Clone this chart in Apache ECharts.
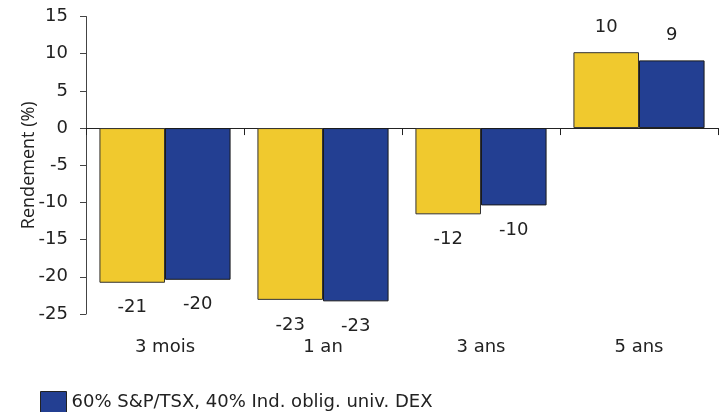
<!DOCTYPE html>
<html><head><meta charset="utf-8">
<script src="https://cdn.jsdelivr.net/npm/echarts@6/dist/echarts.min.js"></script>
<style>html,body{margin:0;padding:0;background:#fff}#c{width:727px;height:412px}</style>
</head><body><div id="c"></div>
<script>
var categories = ['3 mois', '1 an', '3 ans', '5 ans'];
var yellowName = 'Fonds';
var blueName = '60% S&P/TSX, 40% Ind. oblig. univ. DEX';
var yellowValues = [-20.8, -23.1, -11.6, 10.2];
var blueValues = [-20.4, -23.3, -10.4, 9.1];
var yTicks = {min: -25, max: 15, interval: 5};

var FONT = 'DejaVu Sans';
var chart = echarts.init(document.getElementById('c'), null, {renderer: 'canvas'});
function labelCfg() {
  return {show: true, position: 'outside', distance: 16, fontFamily: FONT, fontSize: 18, color: '#222',
    formatter: function (p) { return Math.round(p.value); }};
}
chart.setOption({
  animation: false,
  textStyle: {fontFamily: FONT},
  grid: {left: 86, right: 9, top: 16.5, bottom: 98, containLabel: false},
  legend: {
    data: [{name: blueName, icon: 'rect'}], left: 40, top: 391, padding: 0, itemWidth: 26, itemHeight: 22,
    textStyle: {fontFamily: FONT, fontSize: 18, color: '#222'},
    itemStyle: {borderColor: '#222', borderWidth: 1}
  },
  xAxis: [{
    type: 'category', data: categories,
    axisLine: {onZero: true, lineStyle: {color: '#222', width: 1}},
    axisTick: {show: true, length: 7, lineStyle: {color: '#222'}},
    axisLabel: {show: false}
  }, {
    type: 'category', data: categories, position: 'bottom',
    axisLine: {show: false, onZero: false}, axisTick: {show: false},
    axisLabel: {margin: 24, fontFamily: FONT, fontSize: 18, color: '#222'}
  }],
  yAxis: {
    type: 'value', min: yTicks.min, max: yTicks.max, interval: yTicks.interval,
    name: 'Rendement (%)', nameLocation: 'middle', nameRotate: 90, nameGap: 48, nameMoveOverlap: false,
    nameTextStyle: {fontFamily: 'Open Sans', fontSize: 18, color: '#222'},
    axisLine: {show: true, lineStyle: {color: '#444'}},
    axisTick: {show: true, length: 6, lineStyle: {color: '#444'}},
    axisLabel: {margin: 18, fontFamily: FONT, fontSize: 18, color: '#222'},
    splitLine: {show: false}
  },
  series: [{
    name: yellowName, type: 'bar', data: yellowValues, barGap: '0%', barCategoryGap: '17%',
    itemStyle: {color: '#F0C92E', borderColor: '#333', borderWidth: 1},
    label: labelCfg()
  }, {
    name: blueName, type: 'bar', data: blueValues, barGap: '0%', barCategoryGap: '17%',
    itemStyle: {color: '#233F92', borderColor: '#1a1a1a', borderWidth: 1},
    label: labelCfg()
  }]
});
</script></body></html>
